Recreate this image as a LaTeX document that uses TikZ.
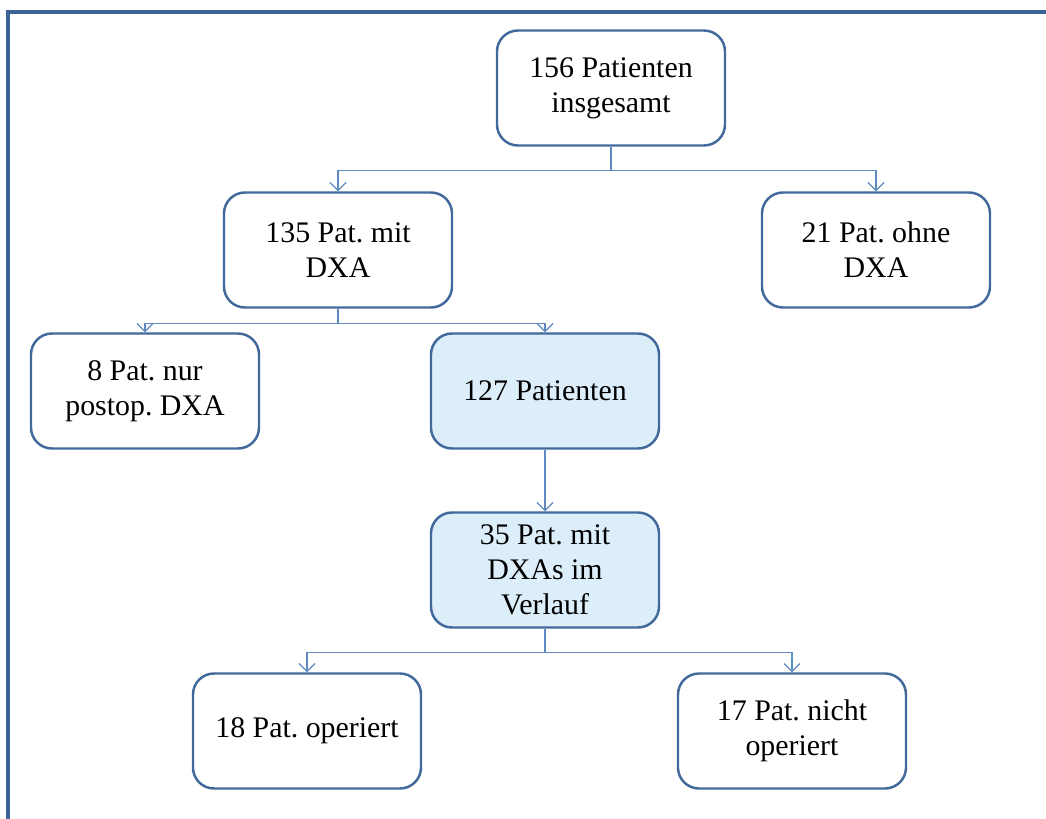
\documentclass[tikz,border=0pt]{standalone}
\usepackage{fontspec}
\setmainfont{Liberation Serif}
\frenchspacing
\usetikzlibrary{positioning,arrows.meta,calc}
\definecolor{rahmen}{HTML}{3B6397}
\definecolor{kante}{HTML}{41699B}
\definecolor{linie}{HTML}{5F8AC2}
\definecolor{hell}{HTML}{DDEEFB}
\tikzset{box/.style={draw=kante, line width=1.4pt, rounded corners=0.42cm, fill=white,
    minimum width=4.56cm, minimum height=2.3cm, align=center,
    font=\fontsize{17}{19.8}\selectfont},
  blaubox/.style={box, fill=hell},
  pfeil/.style={draw=linie, line width=0.7pt, -{Straight Barb[length=1.6mm,width=3.2mm]}},
  strich/.style={draw=linie, line width=0.7pt}}
\begin{document}
\begin{tikzpicture}
\useasboundingbox (0,0) rectangle (20.92,-16.36);
% Rahmen
\draw[rahmen, line width=2.2pt] (0.16,-16.5) -- (0.16,-0.24) -- (21.1,-0.24);
% Kaestchen
\node[box] (gesamt) at (12.22,-1.76) {156 Patienten\\insgesamt};
\node[box] (mitdxa) at (6.76,-5.0) {135 Pat. mit\\DXA};
\node[box] (ohnedxa) at (17.52,-5.0) {21 Pat. ohne\\DXA};
\node[box] (postop) at (2.9,-7.82) {8 Pat. nur\\postop. DXA};
\node[blaubox] (pat127) at (10.9,-7.82) {127 Patienten};
\node[blaubox] (verlauf) at (10.9,-11.4) {35 Pat. mit\\DXAs im\\Verlauf};
\node[box] (operiert) at (6.14,-14.62) {18 Pat. operiert};
\node[box] (nichtop) at (15.84,-14.62) {17 Pat. nicht\\operiert};
% Verbindungen
\path[strich] (gesamt.south) -- ++(0,-0.48) coordinate (k1);
\path[pfeil] (k1) -| (mitdxa);
\path[pfeil] (k1) -| (ohnedxa);
\path[strich] (mitdxa.south) -- ++(0,-0.3) coordinate (k2);
\path[pfeil] (k2) -| (postop);
\path[pfeil] (k2) -| (pat127);
\path[pfeil] (pat127) -- (verlauf);
\path[strich] (verlauf.south) -- ++(0,-0.48) coordinate (k3);
\path[pfeil] (k3) -| (operiert);
\path[pfeil] (k3) -| (nichtop);
\end{tikzpicture}
\end{document}
